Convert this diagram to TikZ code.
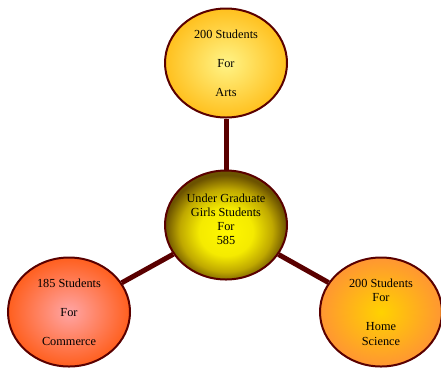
\documentclass[tikz,border=0pt]{standalone}
\usepackage{fontspec}
\setmainfont{Liberation Serif}
\usetikzlibrary{shapes.geometric}

\definecolor{rim}{RGB}{90,0,0}
\pgfdeclareradialshading{ugball}{\pgfpoint{0bp}{-4bp}}{%
  rgb(0bp)=(1,0.97,0); rgb(11bp)=(0.96,0.92,0); rgb(19bp)=(0.75,0.66,0); rgb(25bp)=(0.42,0.32,0); rgb(50bp)=(0.42,0.32,0)}
\tikzset{
  blob/.style={ellipse,draw=rim,line width=2bp,minimum width=122bp,minimum height=109bp,
    inner sep=0pt,align=center,shading=radial,font=\fontsize{12.3bp}{14.5bp}\selectfont},
  spoke/.style={draw=rim,line width=5bp}
}

\begin{document}
\begin{tikzpicture}[x=1bp,y=-1bp]
          \useasboundingbox (0,0) rectangle (441,367);
          \node[blob,inner color={rgb,255:red,255;green,244;blue,135},outer color={rgb,255:red,255;green,192;blue,30}]
               (arts) at (226,63) {200 Students\\[14.5bp]For\\[14.5bp]Arts};                      % top
          \node[blob,shading=ugball]
               (ug) at (226,225) {};                                                               % middle
          \node[font=\fontsize{12.3bp}{14bp}\selectfont,align=center]
               (ugtext) at (226,219) {Under Graduate\\Girls Students\\For\\585};
          \node[blob,inner color={rgb,255:red,255;green,165;blue,165},outer color={rgb,255:red,255;green,95;blue,30}]
               (com) at (69,312) {185 Students\\[14.5bp]For\\[14.5bp]Commerce};                   % left
          \node[blob,inner color={rgb,255:red,255;green,210;blue,0},outer color={rgb,255:red,255;green,150;blue,50}]
               (home) at (381,312) {200 Students\\For\\[14.5bp]Home\\Science};                   % right
          \draw[spoke] (ug) -- (arts);
          \draw[spoke] (ug) -- (com);
          \draw[spoke] (ug) -- (home);
\end{tikzpicture}
\end{document}
